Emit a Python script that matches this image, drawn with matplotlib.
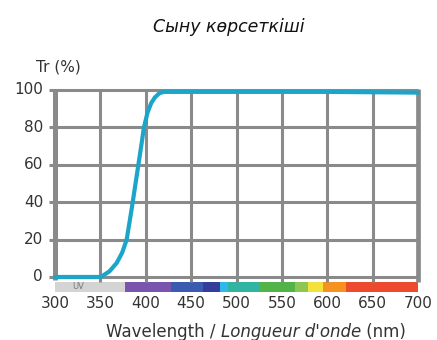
import matplotlib
matplotlib.use("Agg")
import matplotlib.pyplot as plt
from matplotlib.patches import Rectangle

plt.rcParams['font.family'] = ['DejaVu Sans']

# Data
wavelength = [300, 350, 353, 360, 368, 374, 379, 385, 390, 395, 398, 402, 406, 410, 415, 420, 450, 500, 600, 700]
transmission = [0, 0, 0.8, 3, 7.5, 13, 20, 38, 54, 70, 80, 88, 93, 96, 98.3, 99, 99, 99, 99, 98.6]
x_ticks = [300, 350, 400, 450, 500, 550, 600, 650, 700]
y_ticks = [0, 20, 40, 60, 80, 100]
band_edges = [300, 377, 428, 463, 482, 491, 526, 564, 579, 595, 621, 700]
band_colors = ['#d4d4d4', '#7a55ae', '#3b5bb0', '#343d9a', '#31b8ea', '#2fb5a2',
               '#52b448', '#8dc653', '#f4e23c', '#f6921f', '#ee4b2e']
title = 'Сыну көрсеткіші'

W, H = 437, 340
fig = plt.figure(figsize=(W / 100, H / 100), dpi=100)
ax = fig.add_axes([55 / W, 1 - 292.3 / H, 363 / W, 202.3 / H])
ax.set_xlim(300, 700)
ax.set_ylim(-8.2, 100)
ax.axis('off')

grid_c = '#8a8a8a'
txt_c = '#333333'
bar_top = -2.5
# spectrum band
for i, c in enumerate(band_colors):
    ax.add_patch(Rectangle((band_edges[i], -8.2), band_edges[i + 1] - band_edges[i],
                           8.2 + bar_top, facecolor=c, edgecolor='none', zorder=1))
ax.text(326, (-8.2 + bar_top) / 2, 'UV', fontsize=6, color='#777777', ha='center', va='center', zorder=2)

# horizontal grid
for y in y_ticks:
    ax.plot([293.5, 700], [y, y], color=grid_c, lw=2.2, clip_on=False, zorder=2, solid_capstyle='butt')
# vertical grid
for x in x_ticks[1:-1]:
    ax.plot([x, x], [bar_top, 100], color=grid_c, lw=2.2, clip_on=False, zorder=2, solid_capstyle='butt')
ax.plot([300, 300], [-1.5, 100.6], color=grid_c, lw=3.6, clip_on=False, zorder=2, solid_capstyle='butt')
ax.plot([700, 700], [bar_top, 100.6], color=grid_c, lw=3.4, clip_on=False, zorder=2, solid_capstyle='butt')

# curve
ax.plot(wavelength, transmission, color='#1ba5c9', lw=3.0, clip_on=False, zorder=3,
        solid_capstyle='round', solid_joinstyle='round')

# tick labels
for x in x_ticks:
    fig.text((55 + (x - 300) * 363 / 400) / W, 1 - 308 / H, str(x), ha='center', va='baseline',
             fontsize=11, color=txt_c)
for y in y_ticks:
    ax.text(286.8, y, str(y), ha='right', va='center', fontsize=11, color=txt_c)

fig.text(58 / W, 1 - 72 / H, 'Tr (%)', ha='center', va='baseline', fontsize=11, color=txt_c)
fig.text(228.5 / W, 1 - 32 / H, title, ha='center', va='baseline', fontsize=12.5, style='italic',
         color='#111111')

# x label with mixed styles
parts = [('Wavelength / ', 'normal'), ("Longueur d'onde", 'italic'), (' (nm)', 'normal')]
fig.canvas.draw()
r = fig.canvas.get_renderer()
texts = []
for s, st in parts:
    t = fig.text(0, 1 - 336.7 / H, s, ha='left', va='baseline', fontsize=12, style=st, color=txt_c)
    texts.append(t)
widths = [t.get_window_extent(r).width for t in texts]
total = sum(widths)
x0 = 256 - total / 2
for t, w in zip(texts, widths):
    t.set_x(x0 / W)
    x0 += w

fig.savefig('out.png', dpi=100, facecolor='white')
